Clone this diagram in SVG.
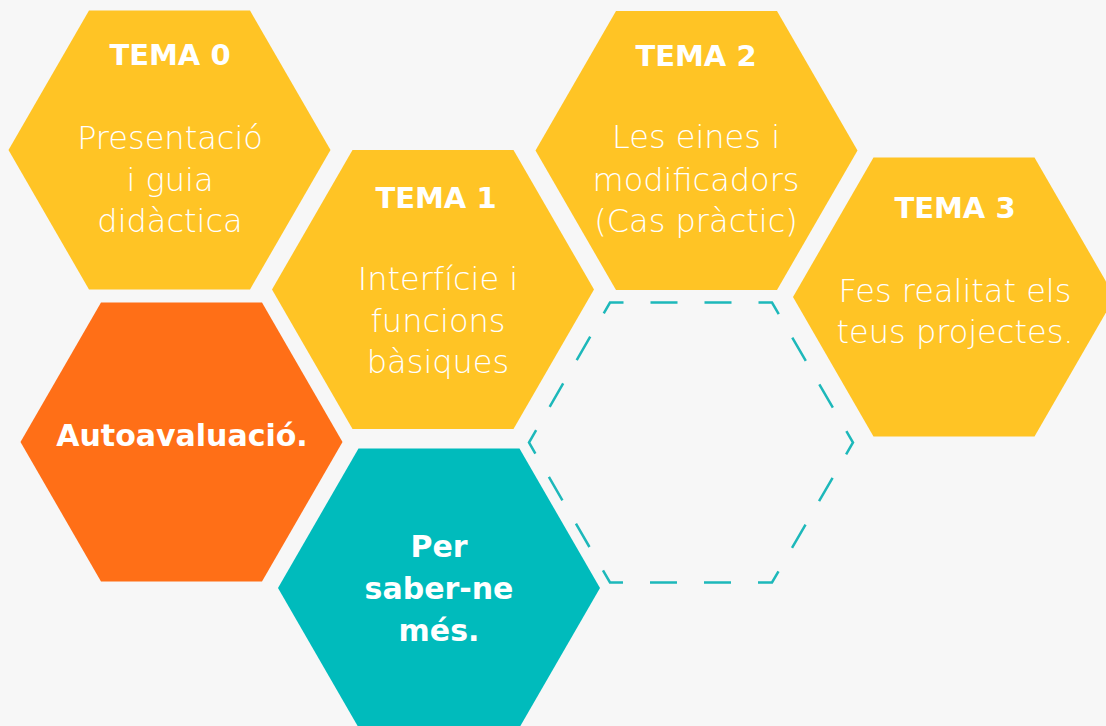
<svg xmlns="http://www.w3.org/2000/svg" width="1106" height="726" viewBox="0 0 1106 726">
<style>
.bg{fill:#F7F7F7}
.y{fill:#FFC425}
.o{fill:#FF6F17}
.t{fill:#00BBBC}
.d{fill:none;stroke:#1DB8BA;stroke-width:2.5;stroke-dasharray:27 27;stroke-dashoffset:13.5}
.h{font-family:"DejaVu Sans","Liberation Sans",sans-serif;font-weight:bold;fill:#FFFFFF;text-anchor:middle}
.l{font-family:"DejaVu Sans","Liberation Sans",sans-serif;font-weight:200;font-size:32px;fill:#FFFFFF;text-anchor:middle}
</style>
<defs>
<polygon id="hex" points="-80.5,-139.5 80.5,-139.5 161,0 80.5,139.5 -80.5,139.5 -161,0"/>
</defs>
<rect class="bg" x="0" y="0" width="1106" height="726"/>
<g id="tema0">
<use href="#hex" class="y" transform="translate(169.5,150)"/>
<text class="h" x="170" y="65" font-size="29">TEMA 0</text>
<text class="l" x="170" y="149">Presentació</text>
<text class="l" x="170" y="191">i guia</text>
<text class="l" x="170" y="232">didàctica</text>
</g>
<g id="tema1">
<use href="#hex" class="y" transform="translate(433,289.5)"/>
<text class="h" x="436" y="208" font-size="29">TEMA 1</text>
<text class="l" x="438" y="290">Interfície i</text>
<text class="l" x="438" y="332">funcions</text>
<text class="l" x="438" y="373">bàsiques</text>
</g>
<g id="tema2">
<use href="#hex" class="y" transform="translate(696.5,150.5)"/>
<text class="h" x="696" y="66" font-size="29">TEMA 2</text>
<text class="l" x="696" y="148">Les eines i</text>
<text class="l" x="696" y="191">modificadors</text>
<text class="l" x="696" y="232">(Cas pràctic)</text>
</g>
<g id="tema3">
<use href="#hex" class="y" transform="translate(954,297)"/>
<text class="h" x="955" y="218" font-size="29">TEMA 3</text>
<text class="l" x="955" y="302">Fes realitat els</text>
<text class="l" x="955" y="343">teus projectes.</text>
</g>
<g id="autoavaluacio">
<use href="#hex" class="o" transform="translate(181.5,442)"/>
<text class="h" x="182" y="446" font-size="30">Autoavaluació.</text>
</g>
<g id="per-saber">
<use href="#hex" class="t" transform="translate(439,588)"/>
<text class="h" x="439" y="557" font-size="30">Per</text>
<text class="h" x="439" y="599" font-size="30">saber-ne</text>
<text class="h" x="439" y="641" font-size="30">més.</text>
</g>
<g id="empty">
<path class="d" d="M610,302.5 L772,302.5 L853,442.5 L772,582.5 L610,582.5 L529,442.5 Z"/>
</g>
<g id="connectors"></g>
</svg>
